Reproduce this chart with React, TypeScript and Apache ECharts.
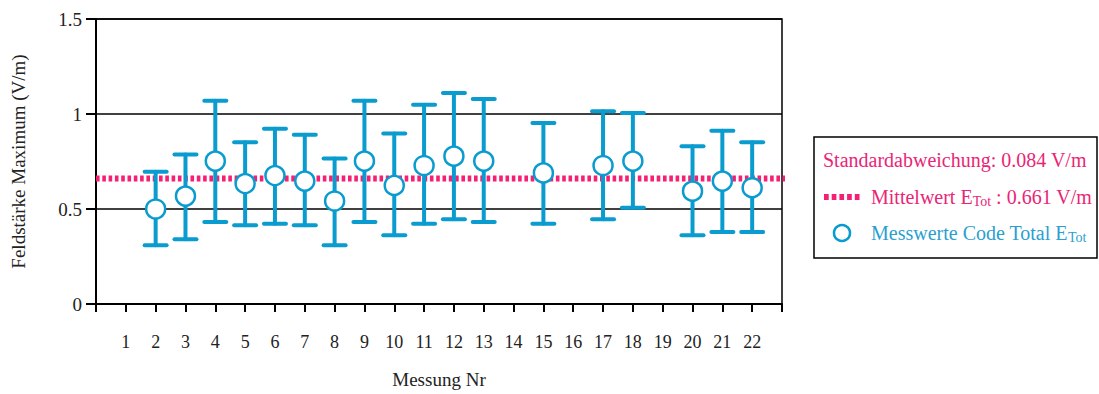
import React, { useEffect, useRef } from "react";
import * as echarts from "echarts";

const measIds = [2, 3, 4, 5, 6, 7, 8, 9, 10, 11, 12, 13, 15, 17, 18, 20, 21, 22];
const values = [0.5, 0.568, 0.752, 0.634, 0.676, 0.647, 0.542, 0.752, 0.624, 0.729, 0.778, 0.752, 0.69, 0.729, 0.752, 0.594, 0.647, 0.612];
const upper = [0.696, 0.787, 1.07, 0.851, 0.923, 0.891, 0.766, 1.07, 0.897, 1.049, 1.11, 1.079, 0.953, 1.014, 1.005, 0.83, 0.912, 0.851];
const lower = [0.309, 0.341, 0.432, 0.414, 0.423, 0.414, 0.309, 0.432, 0.362, 0.423, 0.446, 0.432, 0.423, 0.446, 0.507, 0.362, 0.379, 0.379];
const meanValue = 0.661;
const stdDev = 0.084;
const yTicks = ["0", "0.5", "1", "1.5"];

const BLUE = "#0a9bcf";
const PINK = "#f51f74";
const PINK_TEXT = "#ea2576";
const BLUE_TEXT = "#2a9fd0";
const FONT = "Liberation Serif";

export default function App() {
  const ref = useRef<HTMLDivElement>(null);
  useEffect(() => {
    document.body.style.margin = "0";
    const chart = echarts.init(ref.current!, null, { renderer: "svg" });
    const points = measIds.map((id, i) => [id, values[i]]);
    const bars = measIds.map((id, i) => [id, lower[i], upper[i]]);
    const sub = { fontFamily: FONT, fontSize: 14, padding: [9, 0, 0, 0] };
    chart.setOption({
      animation: false,
      textStyle: { fontFamily: FONT },
      grid: {
        left: 96,
        right: 317,
        top: 19,
        bottom: 88,
        show: true,
        borderColor: "#000",
        borderWidth: 1.5,
        backgroundColor: "transparent",
      },
      xAxis: {
        type: "value",
        min: 0,
        max: 23,
        interval: 1,
        name: "Messung Nr",
        nameLocation: "middle",
        nameGap: 66,
        nameTextStyle: { fontFamily: FONT, fontSize: 19, color: "#222" },
        axisLine: { show: true, onZero: false, lineStyle: { color: "#000", width: 2 } },
        axisTick: { show: true, length: 8, lineStyle: { color: "#000", width: 2 } },
        axisLabel: {
          margin: 29,
          fontFamily: FONT,
          fontSize: 18,
          color: "#222",
          formatter: (v: number) => (v >= 1 && v <= 22 ? String(v) : ""),
        },
        splitLine: { show: false },
      },
      yAxis: {
        type: "value",
        min: 0,
        max: 1.5,
        interval: 0.5,
        name: "Feldstärke Maximum (V/m)",
        nameLocation: "middle",
        nameGap: 68,
        nameTextStyle: { fontFamily: FONT, fontSize: 19, color: "#222" },
        axisLine: { show: true, lineStyle: { color: "#000", width: 2 } },
        axisTick: { show: true, length: 10, lineStyle: { color: "#000", width: 2 } },
        axisLabel: {
          margin: 14,
          fontFamily: FONT,
          fontSize: 19,
          color: "#222",
          formatter: (v: number) => yTicks[Math.round(v / 0.5)] ?? "",
        },
        splitLine: { show: true, lineStyle: { color: "#000", width: 1.5 } },
      },
      series: [
        {
          type: "line",
          data: [
            [0, meanValue],
            [23.43, meanValue],
          ],
          clip: false,
          symbol: "none",
          z: 1,
          lineStyle: { color: PINK, width: 6, type: [3.6, 2.7] },
        },
        {
          type: "custom",
          data: bars,
          z: 2,
          renderItem: (params: any, api: any) => {
            const x = api.value(0);
            const pLo = api.coord([x, api.value(1)]);
            const pHi = api.coord([x, api.value(2)]);
            const half = 11;
            const style = { stroke: BLUE, lineWidth: 4, lineCap: "round" };
            return {
              type: "group",
              children: [
                { type: "line", shape: { x1: pLo[0], y1: pLo[1], x2: pHi[0], y2: pHi[1] }, style },
                { type: "line", shape: { x1: pHi[0] - half, y1: pHi[1], x2: pHi[0] + half, y2: pHi[1] }, style },
                { type: "line", shape: { x1: pLo[0] - half, y1: pLo[1], x2: pLo[0] + half, y2: pLo[1] }, style },
              ],
            };
          },
        },
        {
          type: "scatter",
          data: points,
          z: 3,
          symbol: "circle",
          symbolSize: 19,
          itemStyle: { color: "#fff", borderColor: BLUE, borderWidth: 2.5, opacity: 1 },
        },
      ],
      graphic: [
        {
          type: "rect",
          shape: { x: 814, y: 137, width: 283, height: 121 },
          style: { fill: "#fff", stroke: "#000", lineWidth: 1.5 },
        },
        {
          type: "text",
          x: 823,
          y: 160,
          style: {
            text: `Standardabweichung: ${stdDev} V/m`,
            fontFamily: FONT,
            fontSize: 20,
            fill: PINK_TEXT,
            verticalAlign: "middle",
          },
        },
        {
          type: "line",
          shape: { x1: 824, y1: 197, x2: 861, y2: 197 },
          style: { stroke: PINK, lineWidth: 6, lineDash: [4.7, 3] },
        },
        {
          type: "text",
          x: 871,
          y: 197,
          style: {
            text: `Mittelwert E{sub|Tot} : ${meanValue} V/m`,
            fontFamily: FONT,
            fontSize: 20,
            fill: PINK_TEXT,
            verticalAlign: "middle",
            rich: { sub: { ...sub, fill: PINK_TEXT } },
          },
        },
        {
          type: "circle",
          shape: { cx: 842, cy: 233, r: 8 },
          style: { fill: "#fff", stroke: BLUE, lineWidth: 2.5 },
        },
        {
          type: "text",
          x: 871,
          y: 233,
          style: {
            text: "Messwerte Code Total E{sub|Tot}",
            fontFamily: FONT,
            fontSize: 20,
            fill: BLUE_TEXT,
            verticalAlign: "middle",
            rich: { sub: { ...sub, fill: BLUE_TEXT } },
          },
        },
      ],
    });
    return () => chart.dispose();
  }, []);
  return <div ref={ref} style={{ width: 1099, height: 394 }} />;
}
